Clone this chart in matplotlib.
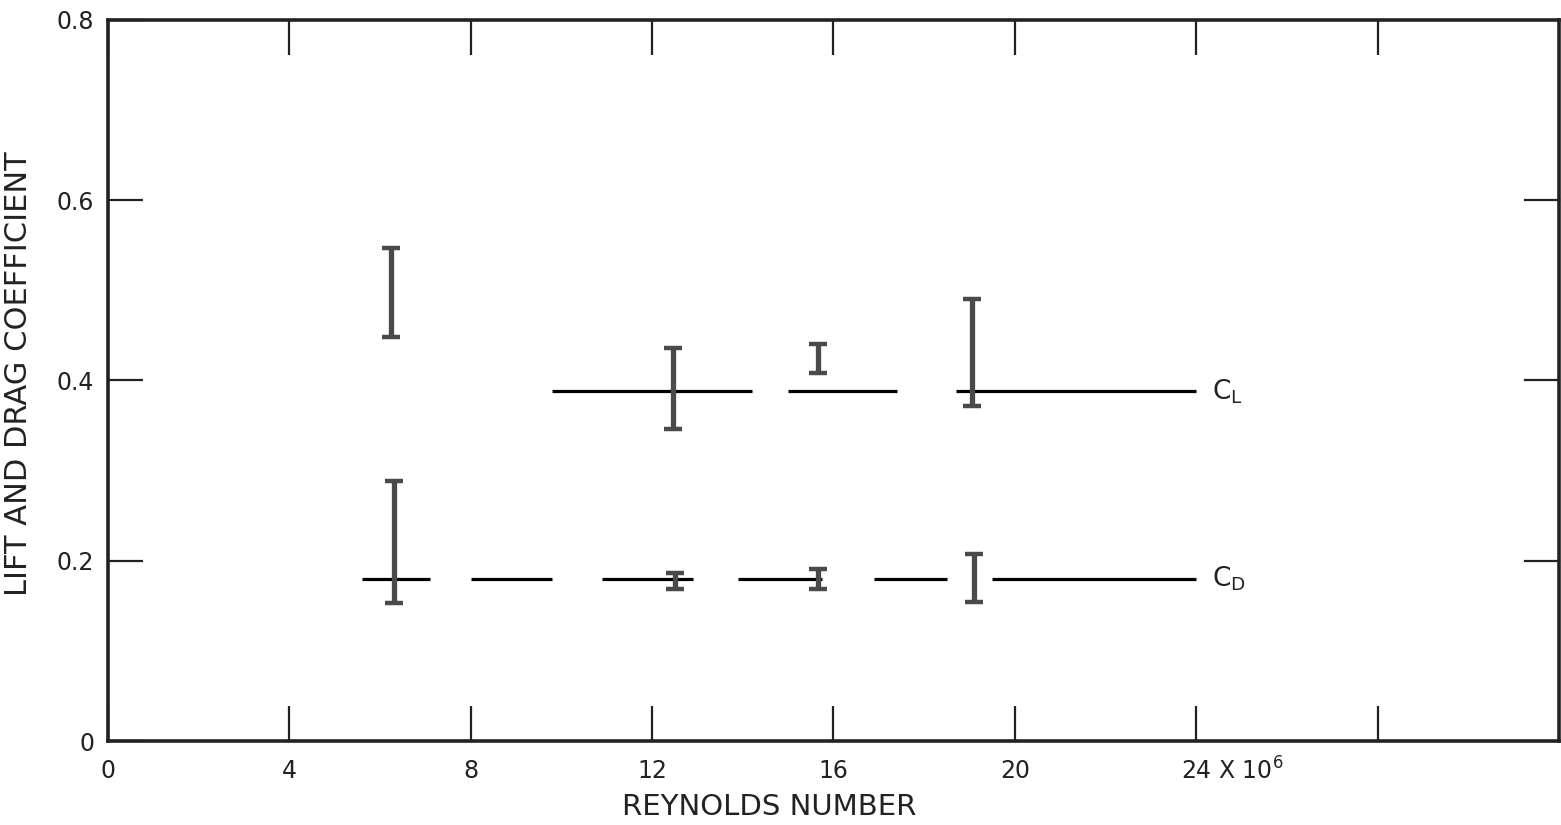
import matplotlib
matplotlib.use("Agg")
import matplotlib.pyplot as plt

# mean coefficient levels drawn as broken horizontal lines
cl_level = 0.388
cl_seg_start = [9.8, 15.0, 18.7]
cl_seg_end = [14.2, 17.4, 24.0]

cd_level = 0.18
cd_seg_start = [5.6, 8.0, 10.9, 13.9, 16.9, 19.5]
cd_seg_end = [7.1, 9.8, 12.9, 15.75, 18.5, 24.0]

# scatter bands (Reynolds number in millions, low / high coefficient)
cl_bar_re = [6.25, 12.45, 15.65, 19.05]
cl_lo = [0.448, 0.346, 0.408, 0.372]
cl_hi = [0.547, 0.436, 0.441, 0.490]

cd_bar_re = [6.3, 12.5, 15.65, 19.1]
cd_lo = [0.153, 0.169, 0.169, 0.154]
cd_hi = [0.289, 0.186, 0.191, 0.208]

x_ticks = [0, 4, 8, 12, 16, 20, 24]
x_tick_labels = ["0", "4", "8", "12", "16", "20", "24"]
y_ticks = [0, 0.2, 0.4, 0.6, 0.8]
y_tick_labels = ["0", "0.2", "0.4", "0.6", "0.8"]

plt.rcParams['font.family'] = ['DejaVu Sans']
fig = plt.figure(figsize=(15.61, 8.25), dpi=100)
ax = fig.add_axes([0.0692, 0.1018, 0.9295, 0.874])

ax.hlines([cl_level] * len(cl_seg_start), cl_seg_start, cl_seg_end, color='black', linewidth=2.3)
ax.hlines([cd_level] * len(cd_seg_start), cd_seg_start, cd_seg_end, color='black', linewidth=2.3)

def band(xs, lo, hi):
    mid = [(a + b) / 2 for a, b in zip(lo, hi)]
    err = [[m - a for m, a in zip(mid, lo)], [b - m for m, b in zip(mid, hi)]]
    ax.errorbar(xs, mid, yerr=err, fmt='none', ecolor='#4a4a4a', elinewidth=3.8,
                capsize=6.5, capthick=3.2, zorder=3)

band(cl_bar_re, cl_lo, cl_hi)
band(cd_bar_re, cd_lo, cd_hi)

ax.text(24.35, cl_level, r"C$_\mathregular{L}$", fontsize=19, va='center', ha='left', color='#222222')
ax.text(24.35, cd_level, r"C$_\mathregular{D}$", fontsize=19, va='center', ha='left', color='#222222')

ax.set_xlim(0, 32)
ax.set_ylim(0, 0.8)
ax.set_xticks(x_ticks)
ax.set_xticklabels(x_tick_labels)
ax.set_yticks(y_ticks)
ax.set_yticklabels(y_tick_labels)

# top and right ticks without labels, 28 has no label at the bottom either
ax.set_xticks([28], minor=True)
ax.tick_params(axis='both', which='both', direction='in', length=25, width=1.6,
               top=True, right=True, labelsize=17, colors='#222222')
ax.tick_params(axis='x', pad=13)
ax.tick_params(axis='y', pad=10)
ax.tick_params(axis='y', right=False)
for yy in [0.2, 0.4, 0.6]:
    ax.plot([31.25, 32], [yy, yy], color='#222222', linewidth=1.6, clip_on=False)

ax.annotate(r"X 10$^\mathregular{6}$", xy=(24, 0), xycoords='data',
            xytext=(16, -12), textcoords='offset points', fontsize=17,
            va='top', ha='left', color='#222222')

for s in ax.spines.values():
    s.set_linewidth(2.6)
    s.set_color('#222222')

ax.set_xlabel("REYNOLDS NUMBER", fontsize=21, color='#222222')
ax.xaxis.set_label_coords(0.456, -0.072)
ax.set_ylabel("LIFT AND DRAG COEFFICIENT", fontsize=22, color='#222222')
ax.yaxis.set_label_coords(-0.052, 0.51)

fig.savefig("out.png", dpi=100)
